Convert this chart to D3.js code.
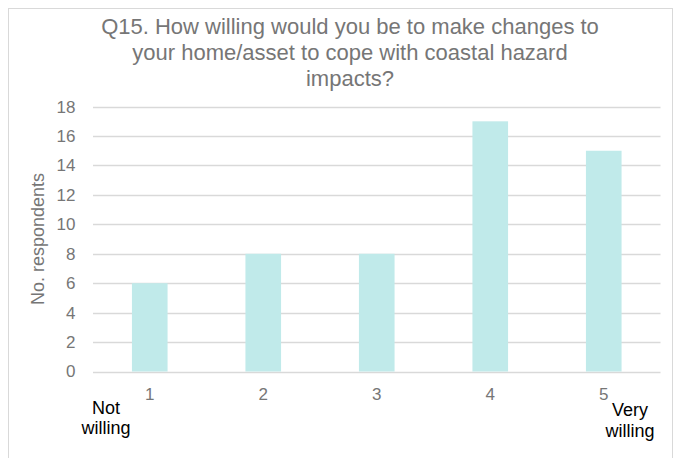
<!DOCTYPE html>
<html><head><meta charset="utf-8">
<script src="https://cdn.jsdelivr.net/npm/d3@7"></script>
<style>body{margin:0;background:#fff}svg{display:block;font-family:"Liberation Sans",Arial,sans-serif}</style>
</head><body>
<svg id="c" width="675" height="458"></svg>
<script>
const categories = ["1","2","3","4","5"];
const values = [6, 8, 8, 17, 15];
const yTicks = [0,2,4,6,8,10,12,14,16,18];
const titleLines = ["Q15. How willing would you be to make changes to","your home/asset to cope with coastal hazard","impacts?"];
const yTitle = "No. respondents";
const leftNote = ["Not","willing"];
const rightNote = ["Very","willing"];

const svg = d3.select("#c");
const m = {left:93, right:660.5, top:106.6, bottom:371.5};
const textGray = "#767676";

svg.append("rect").attr("x",8.5).attr("y",8.5).attr("width",664).attr("height",470)
  .attr("fill","#fff").attr("stroke","#d9d9d9").attr("stroke-width",1);

const x = d3.scaleBand().domain(categories).range([m.left, m.right]).paddingInner(0.686).paddingOuter(0.343);
const y = d3.scaleLinear().domain([0,18]).range([m.bottom, m.top]);

// gridlines
svg.append("g").selectAll("line").data(yTicks).join("line")
  .attr("x1", m.left).attr("x2", m.right)
  .attr("y1", d=>Math.round(y(d))+0.5).attr("y2", d=>Math.round(y(d))+0.5)
  .attr("stroke","#d9d9d9").attr("stroke-width",1.3);

// bars
svg.append("g").selectAll("rect").data(values).join("rect")
  .attr("x",(d,i)=>x(categories[i])).attr("width",x.bandwidth())
  .attr("y",d=>y(d)).attr("height",d=>y(0)-y(d))
  .attr("fill","#c0eaea");

// y axis labels
const ya = d3.axisLeft(y).tickValues(yTicks).tickSize(0).tickPadding(0);
const yg = svg.append("g").attr("transform",`translate(75.5,0)`).call(ya);
yg.select(".domain").remove();
yg.selectAll("text").attr("fill",textGray).style("font-size","17px").style("font-family","'Liberation Sans',Arial,sans-serif");

// x axis labels
const xa = d3.axisBottom(x).tickSize(0).tickPadding(0);
const xg = svg.append("g").call(xa);
xg.select(".domain").remove();
xg.selectAll("text").attr("y",400).attr("dy",null).attr("fill",textGray).style("font-size","17px").style("font-family","'Liberation Sans',Arial,sans-serif");

// title
svg.append("g").selectAll("text").data(titleLines).join("text")
  .attr("x",350).attr("y",(d,i)=>33.5+i*26).attr("text-anchor","middle")
  .attr("fill",textGray).style("font-size","22px").text(d=>d);

// y title
svg.append("text").attr("transform",`translate(44,239) rotate(-90)`)
  .attr("text-anchor","middle").attr("fill",textGray).style("font-size","18px").text(yTitle);

// notes
svg.append("g").selectAll("text").data(leftNote).join("text")
  .attr("x",106).attr("y",(d,i)=>414+i*19.5).attr("text-anchor","middle")
  .attr("fill","#000").style("font-size","18px").text(d=>d);
svg.append("g").selectAll("text").data(rightNote).join("text")
  .attr("x",630).attr("y",(d,i)=>416+i*20.5).attr("text-anchor","middle")
  .attr("fill","#000").style("font-size","18px").text(d=>d);
</script>
</body></html>
